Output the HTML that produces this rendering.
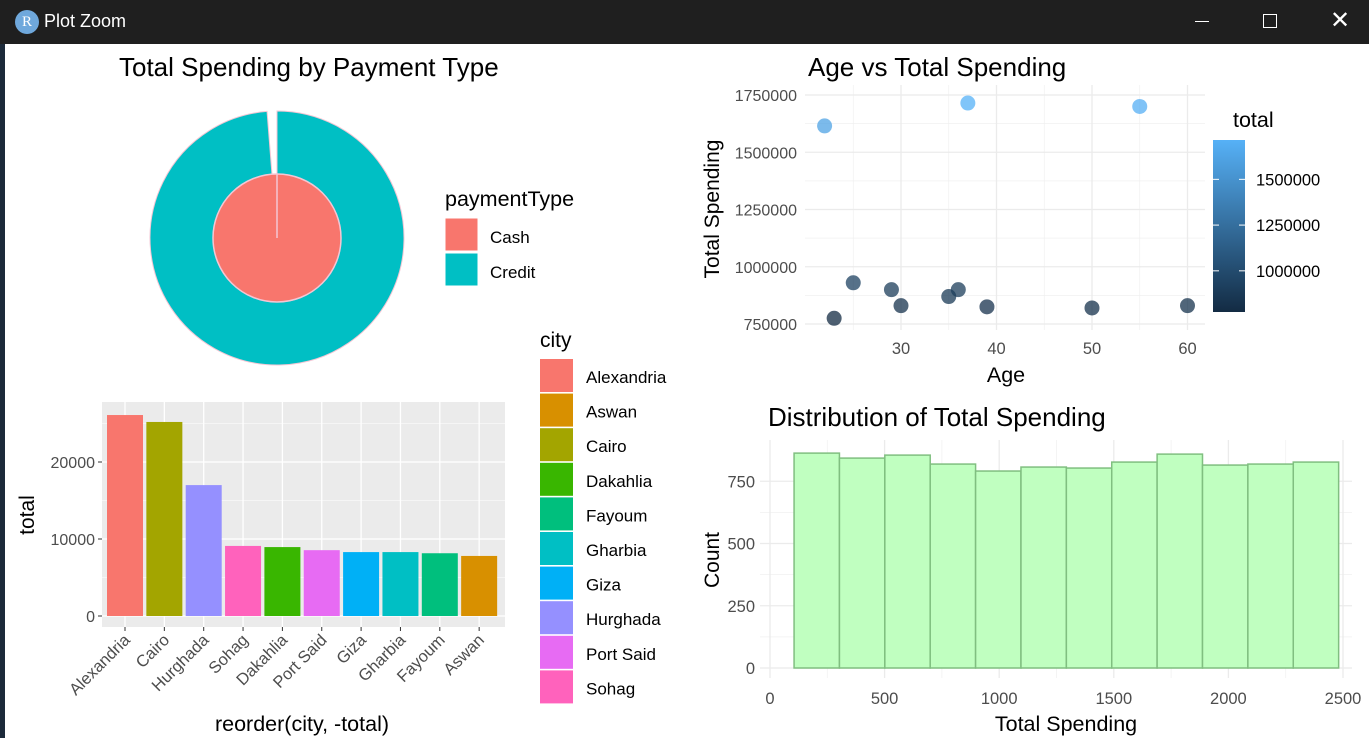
<!DOCTYPE html>
<html><head><meta charset="utf-8"><style>
body{margin:0;width:1369px;height:738px;overflow:hidden;background:#fff;font-family:"Liberation Sans",sans-serif}
#bar{position:absolute;left:0;top:0;width:1369px;height:44px;background:#1f1f1f;color:#fff}
#left{position:absolute;left:0;top:44px;width:5px;height:694px;background:#1c2a3a}
svg text{font-family:"Liberation Sans",sans-serif}
</style></head><body>
<div id="bar">
<div style="position:absolute;left:15px;top:10px;width:24px;height:24px;border-radius:12px;background:#6fa8dc;color:#fff;font:15px 'Liberation Serif',serif;text-align:center;line-height:24px">R</div>
<div style="position:absolute;left:44px;top:11px;font-size:18px">Plot Zoom</div>
<div style="position:absolute;left:1195px;top:21px;width:14px;height:1px;background:#fff"></div>
<div style="position:absolute;left:1263px;top:14px;width:12px;height:12px;border:1.5px solid #fff"></div>
<div style="position:absolute;left:1330px;top:6px;font-size:24px">✕</div>
</div>
<div id="left"></div>
<svg id="s" width="1369" height="738" style="position:absolute;left:0;top:0"></svg>
<script>
// bar chart data
const cities=["Alexandria","Cairo","Hurghada","Sohag","Dakahlia","Port Said","Giza","Gharbia","Fayoum","Aswan"];
const cityTotals=[26100,25200,17000,9100,8950,8550,8300,8300,8150,7800];
const cityColors=["#F8766D","#A3A500","#9590FF","#FF62BC","#39B600","#E76BF3","#00B0F6","#00BFC4","#00BF7D","#D89000"];
const legendCities=["Alexandria","Aswan","Cairo","Dakahlia","Fayoum","Gharbia","Giza","Hurghada","Port Said","Sohag"];
const legendColors=["#F8766D","#D89000","#A3A500","#39B600","#00BF7D","#00BFC4","#00B0F6","#9590FF","#E76BF3","#FF62BC"];
const barTicks=[0,10000,20000];
// scatter data
const ages=[22,23,25,29,30,35,36,37,39,50,55,60];
const spend=[1615000,775000,930000,900000,830000,870000,900000,1715000,825000,820000,1700000,830000];
const spendTicks=[750000,1000000,1250000,1500000,1750000];
const ageTicks=[30,40,50,60];
const colorbarTicks=[1000000,1250000,1500000];
// histogram data
const binStarts=[105,303,501,699,897,1095,1293,1491,1689,1887,2085,2283];
const binCounts=[863,843,855,819,791,807,803,827,859,815,819,827];
const histYTicks=[0,250,500,750];
const histXTicks=[0,500,1000,1500,2000,2500];
// pie data
const payTypes=["Cash","Credit"];
const payColors=["#F8766D","#00BFC4"];

const S=document.getElementById('s');const NS="http://www.w3.org/2000/svg";
function el(t,a,txt){const e=document.createElementNS(NS,t);for(const k in a)e.setAttribute(k,a[k]);if(txt!==undefined)e.textContent=txt;S.appendChild(e);return e;}
function tx(x,y,s,size,anchor,fill,name,rot){const a={x:x,y:y,'font-size':size,'text-anchor':anchor||'start',fill:fill||'#000'};if(rot)a.transform=rot;const e=el('text',a,s);

return e;}

// ---- Pie
tx(119,76,"Total Spending by Payment Type",26,'start','#000','pie-title');
const cx=277,cy=238,R=127,r=64;
function pt(rad,ang){return [cx+rad*Math.sin(ang),cy-rad*Math.cos(ang)];}
const a0=-4.5*Math.PI/180;
let p1=pt(R,0),p2=pt(R,2*Math.PI+a0),q1=pt(r,2*Math.PI+a0),q2=pt(r,0);
let ring=el('path',{d:`M${p1} A${R},${R} 0 1 1 ${p2} L${q1} A${r},${r} 0 1 0 ${q2}Z`,fill:payColors[1],stroke:'#f4c6d4','stroke-width':1});


let inner=el('circle',{cx:cx,cy:cy,r:r,fill:payColors[0],stroke:'#f4c6d4','stroke-width':1.5});


let ln=el('line',{x1:cx,y1:cy,x2:cx,y2:cy-r,stroke:'#f4c6d4','stroke-width':1.5});


tx(445,206,"paymentType",21.5,'start','#000','pie-legend-title');
payTypes.forEach((p,i)=>{let k=el('rect',{x:445,y:218+i*35,width:33,height:33,fill:payColors[i],stroke:'#fff'});


tx(490,243+i*35,p,17,'start','#000','pie-legend-label-'+p.toLowerCase());});

// ---- Bar chart
const bx0=102,bx1=505,by0=402,by1=627;
const byv=v=>616-v*0.0077;
const bxc=i=>125+i*39.35;
let bg=el('rect',{x:bx0,y:by0,width:bx1-bx0,height:by1-by0,fill:'#ebebeb'});


[5000,15000,25000].forEach(v=>{if(byv(v)>by0)el('line',{x1:bx0,x2:bx1,y1:byv(v),y2:byv(v),stroke:'#fff','stroke-width':0.6});});
barTicks.forEach(v=>{el('line',{x1:bx0,x2:bx1,y1:byv(v),y2:byv(v),stroke:'#fff','stroke-width':1.3});
el('line',{x1:bx0-4,x2:bx0,y1:byv(v),y2:byv(v),stroke:'#333'});
tx(bx0-7,byv(v)+6,String(v),16,'end','#4d4d4d','bar-y-tick');});
cities.forEach((c,i)=>{el('line',{x1:bxc(i),x2:bxc(i),y1:by0,y2:by1,stroke:'#fff','stroke-width':1.3});});
cities.forEach((c,i)=>{let b=el('rect',{x:bxc(i)-18,y:byv(cityTotals[i]),width:36,height:byv(0)-byv(cityTotals[i]),fill:cityColors[i]});


el('line',{x1:bxc(i),x2:bxc(i),y1:by1,y2:by1+4,stroke:'#333'});
tx(bxc(i)+6,by1+14,c,16.5,'end','#4d4d4d','bar-x-tick',`rotate(-45 ${bxc(i)+6} ${by1+14})`);});
tx(34,515,"total",21,'middle','#000','bar-y-axis-title','rotate(-90 34 515)');
tx(302,731,"reorder(city, -total)",21.5,'middle','#000','bar-x-axis-title');
tx(540,347,"city",21,'start','#000','city-legend-title');
legendCities.forEach((c,i)=>{let k=el('rect',{x:540,y:359+i*34.6,width:33,height:33,fill:legendColors[i]});


tx(586,383+i*34.6,c,17,'start','#000','city-legend-label');});

// ---- Scatter
const sx=a=>901+(a-30)*9.55, sy=v=>324-(v-750000)*0.000229;
tx(808,76,"Age vs Total Spending",26,'start','#000','scatter-title');
[1,2,3,4].forEach(j=>{const v=625000+250000*j;el('line',{x1:805,x2:1205,y1:sy(v),y2:sy(v),stroke:'#f0f0f0','stroke-width':0.7});});
[25,35,45,55].forEach(a=>el('line',{x1:sx(a),x2:sx(a),y1:85,y2:330,stroke:'#f0f0f0','stroke-width':0.7}));
spendTicks.forEach(v=>{el('line',{x1:805,x2:1205,y1:sy(v),y2:sy(v),stroke:'#ebebeb','stroke-width':1.3});
tx(797,sy(v)+6,String(v),16,'end','#4d4d4d','scatter-y-tick');});
ageTicks.forEach(a=>{el('line',{x1:sx(a),x2:sx(a),y1:85,y2:330,stroke:'#ebebeb','stroke-width':1.3});
tx(sx(a),354,String(a),16.5,'middle','#4d4d4d','scatter-x-tick');});
function col(v){const t=Math.max(0,Math.min(1,(v-775000)/(1715000-775000)));const c0=[19,43,67],c1=[86,177,247];return `rgb(${c0.map((c,i)=>Math.round(c+(c1[i]-c)*t)).join(',')})`;}
ages.forEach((a,i)=>{let d=el('circle',{cx:sx(a),cy:sy(spend[i]),r:7.5,fill:col(spend[i]),'fill-opacity':0.75});

});
tx(1006,382,"Age",21.5,'middle','#000','scatter-x-axis-title');
tx(719,209,"Total Spending",21,'middle','#000','scatter-y-axis-title','rotate(-90 719 209)');
tx(1233,127,"total",21.5,'start','#000','colorbar-title');
let defs=el('defs',{});defs.innerHTML='<linearGradient id="g" x1="0" y1="1" x2="0" y2="0"><stop offset="0" stop-color="#132B43"/><stop offset="1" stop-color="#56B1F7"/></linearGradient>';
let cb=el('rect',{x:1213,y:140,width:32,height:172,fill:'url(#g)'});


const cby=v=>312-(v-775000)*(172/(1715000-775000));
colorbarTicks.forEach(v=>{el('line',{x1:1213,x2:1219,y1:cby(v),y2:cby(v),stroke:'#fff'});el('line',{x1:1239,x2:1245,y1:cby(v),y2:cby(v),stroke:'#fff'});
tx(1256,cby(v)+6,String(v),16.5,'start','#000','colorbar-label');});

// ---- Histogram
const hx=v=>770+v*0.2292, hy=c=>668-c*0.249;
tx(768,426,"Distribution of Total Spending",26,'start','#000','histogram-title');
[125,375,625].forEach(c=>el('line',{x1:760,x2:1352,y1:hy(c),y2:hy(c),stroke:'#f0f0f0','stroke-width':0.7}));
[250,750,1250,1750,2250].forEach(v=>el('line',{x1:hx(v),x2:hx(v),y1:440,y2:678,stroke:'#f0f0f0','stroke-width':0.7}));
histYTicks.forEach(c=>{el('line',{x1:760,x2:1352,y1:hy(c),y2:hy(c),stroke:'#ebebeb','stroke-width':1.3});
tx(755,hy(c)+6,String(c),16.5,'end','#4d4d4d','histogram-y-tick');});
histXTicks.forEach(v=>{el('line',{x1:hx(v),x2:hx(v),y1:440,y2:678,stroke:'#ebebeb','stroke-width':1.3});
tx(hx(v),704,String(v),16.5,'middle','#4d4d4d','histogram-x-tick');});
binStarts.forEach((b,i)=>{let r=el('rect',{x:hx(b),y:hy(binCounts[i]),width:hx(198)-hx(0),height:hy(0)-hy(binCounts[i]),fill:'#c0ffc0',stroke:'#80bf80','stroke-width':1.5});

});
tx(1066,731,"Total Spending",21.5,'middle','#000','histogram-x-axis-title');
tx(719,560,"Count",21,'middle','#000','histogram-y-axis-title','rotate(-90 719 560)');
</script>
</body></html>
